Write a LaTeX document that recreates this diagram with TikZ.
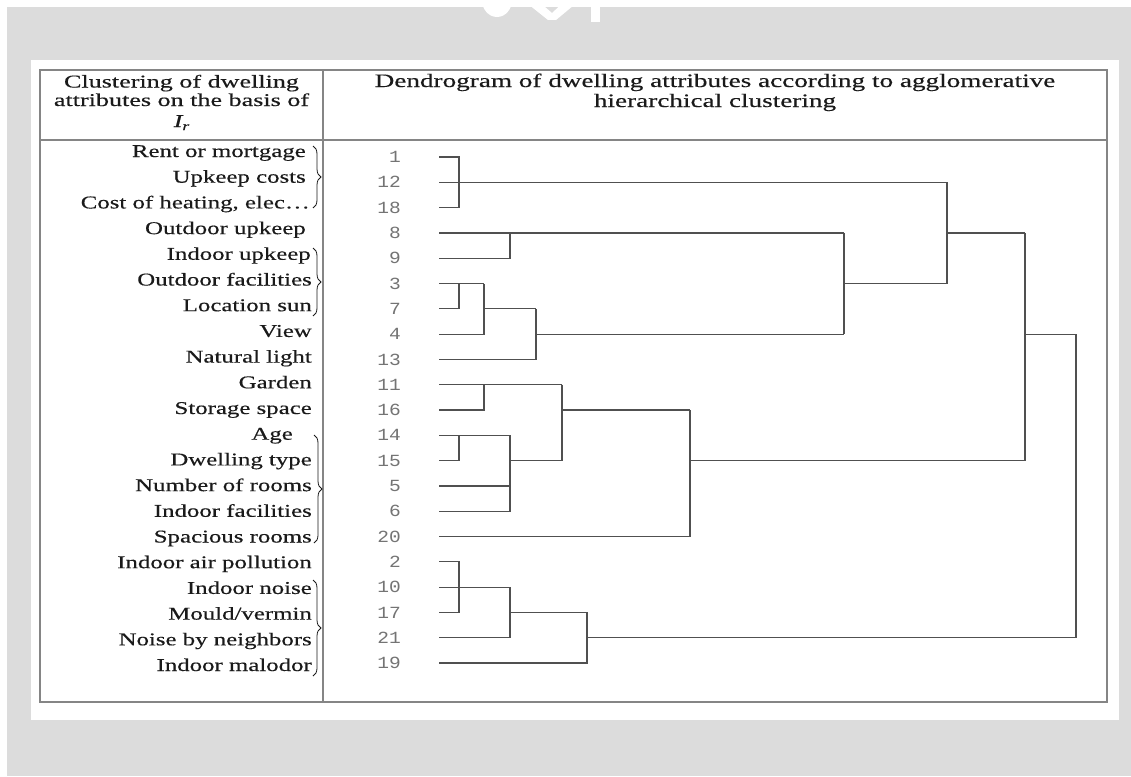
\documentclass[tikz,border=0pt]{standalone}
\usepackage{fontspec}
\setmainfont{Liberation Serif}
\newfontfamily\lblfont[FakeStretch=1.38, FakeBold=0.35]{Liberation Serif}
\newfontfamily\hlfont[FakeStretch=1.45, FakeBold=0.35]{Liberation Serif}
\newfontfamily\hdrfont[FakeStretch=1.43, FakeBold=0.35]{Liberation Serif}
\newfontfamily\numfont[FakeStretch=1.15]{Liberation Mono}
\usetikzlibrary{decorations.pathreplacing}
\definecolor{bggray}{HTML}{DCDCDC}
\definecolor{rulegray}{HTML}{858585}
\definecolor{dgline}{HTML}{505050}
\definecolor{numgray}{HTML}{747474}
\definecolor{txt}{HTML}{1A1A1A}
\tikzset{
  dg/.style={draw=dgline, line width=1.2pt},
  rule/.style={draw=rulegray, line width=1.6pt},
  lbl/.style={anchor=base east, inner sep=0pt, text=txt, font=\lblfont\fontsize{18}{21}\selectfont},
  hdl/.style={anchor=base, inner sep=0pt, text=txt, font=\hlfont\fontsize{18}{21}\selectfont},
  hdr/.style={anchor=base, inner sep=0pt, text=txt, font=\hdrfont\fontsize{19}{22}\selectfont},
  num/.style={anchor=base east, inner sep=0pt, text=numgray, font=\numfont\fontsize{17}{20}\selectfont},
  brc/.style={draw=txt, line width=0.8pt, decorate, decoration={brace, amplitude=8pt}},
}
\begin{document}
\begin{tikzpicture}[x=1pt, y=-1pt]
\useasboundingbox (0,0) rectangle (1131,776);
% background
\fill[white] (0,0) rectangle (1131,776);
\fill[bggray] (7,7) rectangle (1131,776);
% watermark fragment at the top
\fill[white] (497,0) ellipse [x radius=15, y radius=17];
\fill[white] (523,0) -- (537,0) -- (552,13) -- (566,0) -- (580,0) -- (556,20) -- (548,20) -- cycle;
\fill[white] (591,0) rectangle (600,22);
% white panel
\fill[white] (31,60) rectangle (1119,720);
% table
\draw[rule] (40,70) rectangle (1107,702);
\draw[rule] (40,140) -- (1107,140);
\draw[rule] (323,70) -- (323,702);
% headers
\node[hdl] (hl1) at (181.5,87.5) {Clustering of dwelling};
\node[hdl] (hl2) at (181.5,106) {attributes on the basis of};
\node[hdl] (hl3) at (181.5,127) {\itshape I\raisebox{-3pt}{\fontsize{12}{12}\selectfont r}};
\node[hdr] (hr1) at (715,87) {Dendrogram of dwelling attributes according to agglomerative};
\node[hdr] (hr2) at (715,107) {hierarchical clustering};
% left labels
\foreach \t/\xe [count=\i from 0] in {
  {Rent or mortgage}/306, {Upkeep costs}/306, {Cost of heating, elec\ldots}/310,
  {Outdoor upkeep}/306, {Indoor upkeep}/311, {Outdoor facilities}/312,
  {Location sun}/312, {View}/312, {Natural light}/312, {Garden}/312,
  {Storage space}/312, {Age}/293, {Dwelling type}/312, {Number of rooms}/312,
  {Indoor facilities}/312, {Spacious rooms}/312, {Indoor air pollution}/312,
  {Indoor noise}/312, {Mould/vermin}/312, {Noise by neighbors}/312, {Indoor malodor}/312} {
  \pgfmathsetmacro\yy{157+25.7*\i}
  \node[lbl] (lab\i) at (\xe,\yy) {\t};
}
% braces
\draw[brc] (313,146) -- (313,208);
\draw[brc] (313,248) -- (313,316);
\draw[brc] (314,435) -- (314,543);
\draw[brc] (313,580) -- (313,676);
% numbers and leaf coordinates
\foreach \lab [count=\i from 0] in {1,12,18,8,9,3,7,4,13,11,16,14,15,5,6,20,2,10,17,21,19} {
  \pgfmathsetmacro\yy{157+25.3*\i}
  \node[num] (n\lab) at (401,\yy+5.6) {\lab};
  \coordinate (L\lab) at (439,\yy);
}
% merge levels
\coordinate (xa) at (459,0);
\coordinate (xb) at (484,0);
\coordinate (xc) at (510,0);
\coordinate (xd) at (536,0);
\coordinate (xe) at (562,0);
\coordinate (xf) at (587,0);
\coordinate (xg) at (690,0);
\coordinate (xh) at (844,0);
\coordinate (xk) at (947,0);
\coordinate (xm) at (1025,0);
\coordinate (xp) at (1076,0);
% cluster 1,12,18
\draw[dg] (L1) -- (L1 -| xa) -- (L18 -| xa) -- (L18);
\draw[dg] (L12) -- (L12 -| xk);
% cluster 8,9,3,7,4,13
\draw[dg] (L8) -- (L8 -| xh);
\draw[dg] (L9) -- (L9 -| xc) -- (L8 -| xc);
\draw[dg] (L3) -- (L3 -| xb);
\draw[dg] (L7) -- (L7 -| xa) -- (L3 -| xa);
\draw[dg] (L4) -- (L4 -| xb) -- (L3 -| xb);
\draw[dg] (L7 -| xb) -- (L7 -| xd);
\draw[dg] (L13) -- (L13 -| xd) -- (L7 -| xd);
\draw[dg] (L4 -| xd) -- (L4 -| xh);
\draw[dg] (L8 -| xh) -- (L4 -| xh);
\draw[dg] (L3 -| xh) -- (L3 -| xk);
\draw[dg] (L12 -| xk) -- (L3 -| xk);
\draw[dg] (L8 -| xk) -- (L8 -| xm);
% cluster 11,16,14,15,5,6,20
\draw[dg] (L11) -- (L11 -| xe);
\draw[dg] (L16) -- (L16 -| xb) -- (L11 -| xb);
\draw[dg] (L14) -- (L14 -| xc);
\draw[dg] (L15) -- (L15 -| xa) -- (L14 -| xa);
\draw[dg] (L5) -- (L5 -| xc);
\draw[dg] (L6) -- (L6 -| xc) -- (L14 -| xc);
\draw[dg] (L15 -| xc) -- (L15 -| xe);
\draw[dg] (L11 -| xe) -- (L15 -| xe);
\draw[dg] (L16 -| xe) -- (L16 -| xg);
\draw[dg] (L20) -- (L20 -| xg) -- (L16 -| xg);
\draw[dg] (L15 -| xg) -- (L15 -| xm);
\draw[dg] (L8 -| xm) -- (L15 -| xm);
\draw[dg] (L4 -| xm) -- (L4 -| xp);
% cluster 2,10,17,21,19
\draw[dg] (L2) -- (L2 -| xa) -- (L17 -| xa) -- (L17);
\draw[dg] (L10) -- (L10 -| xc);
\draw[dg] (L21) -- (L21 -| xc) -- (L10 -| xc);
\draw[dg] (L17 -| xc) -- (L17 -| xf);
\draw[dg] (L19) -- (L19 -| xf) -- (L17 -| xf);
\draw[dg] (L21 -| xf) -- (L21 -| xp);
\draw[dg] (L4 -| xp) -- (L21 -| xp);
\end{tikzpicture}
\end{document}
